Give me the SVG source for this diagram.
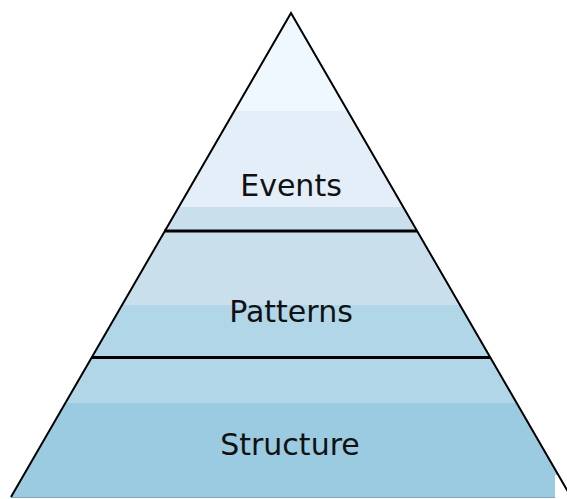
<svg xmlns="http://www.w3.org/2000/svg" width="567" height="499" viewBox="0 0 567 499">
  <style>
    .lbl { font-family: "DejaVu Sans", "Liberation Sans", sans-serif; font-size: 30px; fill: #111; text-anchor: middle; }
    .divider { stroke: #000; stroke-width: 3.2; }
    .edge { stroke: #000; stroke-width: 2; fill: none; }
  </style>
  <defs>
    <clipPath id="tri">
      <polygon points="291,13 11,497 571,497"/>
    </clipPath>
  </defs>
  <rect width="567" height="499" fill="#ffffff"/>
  <g clip-path="url(#tri)">
    <g id="events">
      <rect x="0" y="0" width="567" height="111" fill="#eff8fe"/>
      <rect x="0" y="111" width="567" height="96" fill="#e4eef9"/>
      <rect x="0" y="207" width="567" height="25" fill="#c9e0ec"/>
    </g>
    <g id="patterns">
      <rect x="0" y="232" width="567" height="73" fill="#c9e0ec"/>
      <rect x="0" y="305" width="567" height="53" fill="#b0d6e8"/>
    </g>
    <g id="structure">
      <rect x="0" y="358" width="567" height="45" fill="#b0d6e8"/>
      <rect x="0" y="403" width="567" height="96" fill="#9bcbe0"/>
    </g>
  </g>
  <rect x="555" y="475" width="12" height="24" fill="#ffffff"/>
  <line x1="11" y1="497.5" x2="555" y2="497.5" stroke="#7fa6ba" stroke-width="1"/>
  <g id="connectors">
    <polyline class="edge" points="11,497 291,13 571,497"/>
    <line class="divider" x1="164" y1="231" x2="417" y2="231"/>
    <line class="divider" x1="92" y1="357.5" x2="490" y2="357.5"/>
  </g>
  <g id="labels">
    <text class="lbl" x="291" y="196">Events</text>
    <text class="lbl" x="291" y="322">Patterns</text>
    <text class="lbl" x="290" y="455">Structure</text>
  </g>
</svg>
